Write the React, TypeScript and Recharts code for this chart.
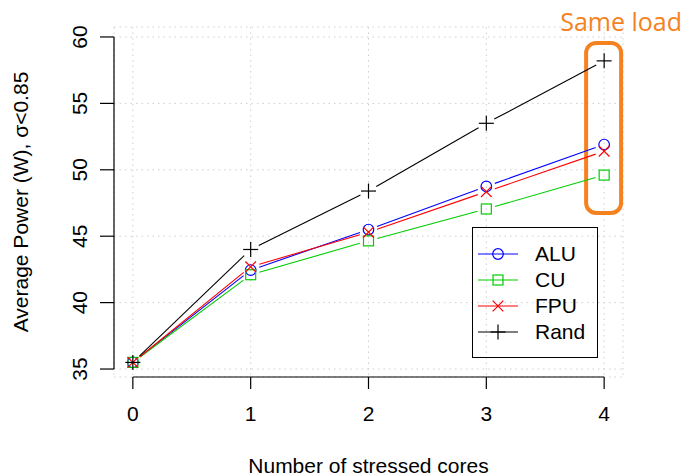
import React from 'react';
import { LineChart, Line, XAxis, YAxis, CartesianGrid, ReferenceLine, ReferenceArea, Legend } from 'recharts';

// values
const cores = [0, 1, 2, 3, 4];
const alu = [35.5, 42.45, 45.5, 48.75, 51.9];
const cu = [35.5, 42.1, 44.65, 47.05, 49.6];
const fpu = [35.5, 42.7, 45.3, 48.35, 51.4];
const rand = [35.5, 44.0, 48.4, 53.5, 58.2];
const yTicks = [35, 40, 45, 50, 55, 60];

const FONT = '"Liberation Sans", Arial, Helvetica, sans-serif';
const ORANGE = '#f58220';
const GAP = 9;

const series = [
  { key: 'alu', name: 'ALU', color: '#0000ff', marker: 'circle' },
  { key: 'cu', name: 'CU', color: '#00cd00', marker: 'square' },
  { key: 'fpu', name: 'FPU', color: '#ff0000', marker: 'cross' },
  { key: 'rand', name: 'Rand', color: '#000000', marker: 'plus' },
];

const data = cores.map((c, i) => ({ x: c, alu: alu[i], cu: cu[i], fpu: fpu[i], rand: rand[i] }));

function Marker({ kind, cx, cy, color }: any) {
  const sw = 1.2;
  if (kind === 'circle') return <circle cx={cx} cy={cy} r={5.3} fill="none" stroke={color} strokeWidth={sw} />;
  if (kind === 'square')
    return <rect x={cx - 5} y={cy - 5} width={10} height={10} fill="none" stroke={color} strokeWidth={sw} />;
  if (kind === 'cross')
    return (
      <g stroke={color} strokeWidth={sw}>
        <line x1={cx - 5.3} y1={cy - 5.3} x2={cx + 5.3} y2={cy + 5.3} />
        <line x1={cx - 5.3} y1={cy + 5.3} x2={cx + 5.3} y2={cy - 5.3} />
      </g>
    );
  return (
    <g stroke={color} strokeWidth={sw}>
      <line x1={cx - 7.5} y1={cy} x2={cx + 7.5} y2={cy} />
      <line x1={cx} y1={cy - 7.5} x2={cx} y2={cy + 7.5} />
    </g>
  );
}

// R type="b": line segments stop short of the points
const makeDot = (s: any) => (props: any) => {
  const { cx, cy, index, points } = props;
  const next = points && points[index + 1];
  let seg = null;
  if (next && next.x != null && next.y != null) {
    const dx = next.x - cx;
    const dy = next.y - cy;
    const len = Math.hypot(dx, dy);
    if (len > 2 * GAP) {
      const ux = dx / len;
      const uy = dy / len;
      seg = (
        <line
          x1={cx + ux * GAP}
          y1={cy + uy * GAP}
          x2={next.x - ux * GAP}
          y2={next.y - uy * GAP}
          stroke={s.color}
          strokeWidth={1.1}
        />
      );
    }
  }
  return (
    <g key={`${s.key}-${index}`}>
      {seg}
      <Marker kind={s.marker} cx={cx} cy={cy} color={s.color} />
    </g>
  );
};

const YTick = ({ x, y, payload }: any) => (
  <text
    x={x}
    y={y}
    transform={`rotate(-90 ${x} ${y})`}
    textAnchor="middle"
    fontSize={21}
    fontFamily={FONT}
    fill="#000"
  >
    {payload.value}
  </text>
);

const YTitle = ({ viewBox }: any) => {
  const x = viewBox.x + 28;
  const y = viewBox.y + viewBox.height / 2;
  return (
    <text x={x} y={y} transform={`rotate(-90 ${x} ${y})`} textAnchor="middle" fontSize={21} fontFamily={FONT} fill="#000">
      Average Power (W), σ&lt;0.85
    </text>
  );
};

const SameLoad = ({ viewBox }: any) => (
  <text
    x={viewBox.x + viewBox.width}
    y={viewBox.y - 12}
    textAnchor="middle"
    fontSize={25}
    fontFamily='"Open Sans", "DejaVu Sans", sans-serif'
    fill={ORANGE}
  >
    Same load
  </text>
);

const LegendBox = () => (
  <div
    style={{
      position: 'relative',
      width: 126,
      height: 131,
      boxSizing: 'border-box',
      border: '1.5px solid #000',
      fontFamily: FONT,
      fontSize: 21,
    }}
  >
    {series.map((s, i) => (
      <div key={s.key} style={{ position: 'absolute', left: 0, top: 26 + i * 26 - 13, height: 26, width: 124 }}>
        <svg width={50} height={26} style={{ position: 'absolute', left: 2, top: 0 }}>
          <line x1={3} y1={13} x2={43} y2={13} stroke={s.color} strokeWidth={1.1} />
          <Marker kind={s.marker} cx={23} cy={13} color={s.color} />
        </svg>
        <span style={{ position: 'absolute', left: 62, top: 0, lineHeight: '26px', color: '#000' }}>{s.name}</span>
      </div>
    ))}
  </div>
);

export default function App() {
  return (
    <div style={{ position: 'absolute', left: 0, top: 0, background: '#fff' }}>
      <LineChart width={686} height={476} data={data} margin={{ top: 27, right: 63, left: 0, bottom: 0 }}>
        <CartesianGrid stroke="#cfcfcf" strokeDasharray="1.5 4" />
        <XAxis
          type="number"
          dataKey="x"
          domain={[-0.16, 4.16]}
          ticks={cores}
          height={99}
          axisLine={false}
          tickLine={{ stroke: '#000', strokeWidth: 1.2 }}
          tickSize={12}
          tickMargin={17}
          tick={{ fill: '#000', fontSize: 21, fontFamily: FONT }}
          label={{ value: 'Number of stressed cores', position: 'insideBottom', offset: 3, fontSize: 21, fontFamily: FONT, fill: '#000' }}
        />
        <YAxis
          type="number"
          domain={[34.4, 60.75]}
          ticks={yTicks}
          width={114}
          axisLine={false}
          tickLine={{ stroke: '#000', strokeWidth: 1.2 }}
          tickSize={14}
          tickMargin={13}
          tick={<YTick />}
          label={{ content: YTitle }}
        />
        <ReferenceLine segment={[{ x: 0, y: 34.4 }, { x: 4, y: 34.4 }]} stroke="#000" strokeWidth={1.2} ifOverflow="visible" />
        <ReferenceLine segment={[{ x: -0.16, y: 35 }, { x: -0.16, y: 60 }]} stroke="#000" strokeWidth={1.2} ifOverflow="visible" />
        <ReferenceArea
          x1={3.847}
          x2={4.144}
          y1={46.75}
          y2={59.55}
          fill="none"
          stroke={ORANGE}
          strokeWidth={4}
          radius={10}
          ifOverflow="visible"
          label={SameLoad}
        />
        {series.map((s) => (
          <Line
            key={s.key}
            dataKey={s.key}
            name={s.name}
            stroke="none"
            isAnimationActive={false}
            dot={makeDot(s)}
            activeDot={false}
          />
        ))}
        <Legend
          layout="vertical"
          align="center"
          verticalAlign="middle"
          wrapperStyle={{ left: 472, top: 227, width: 126, height: 131 }}
          content={() => <LegendBox />}
        />
      </LineChart>
    </div>
  );
}
